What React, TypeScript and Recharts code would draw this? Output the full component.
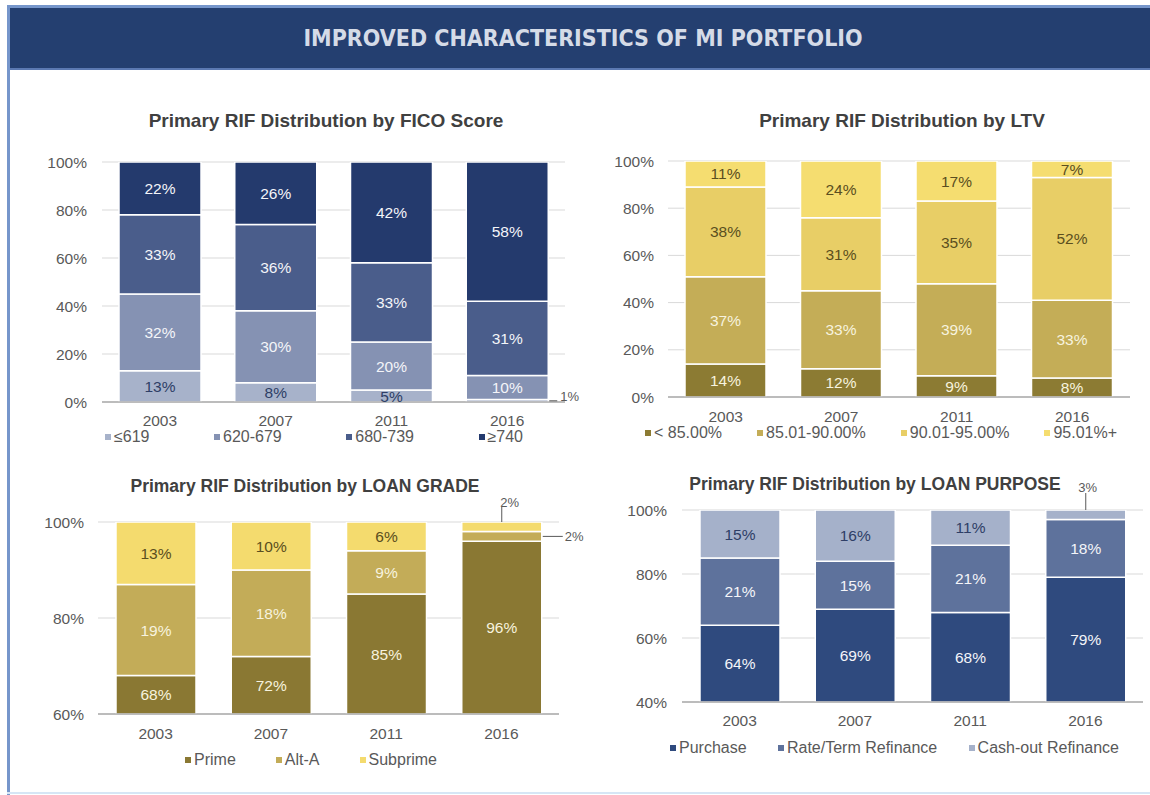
import React from 'react';
import { BarChart, Bar, XAxis, YAxis, CartesianGrid, LabelList, Legend } from 'recharts';

const FONT = "'Liberation Sans', Arial, sans-serif";
const TXT = '#595959';

const years = ['2003', '2007', '2011', '2016'];

// FICO score, bottom to top
const ficoNames = ['≤619', '620-679', '680-739', '≥740'];
const ficoLe619 = [13, 8, 5, 1];
const fico620 = [32, 30, 20, 10];
const fico680 = [33, 36, 33, 31];
const fico740 = [22, 26, 42, 58];

// LTV, bottom to top
const ltvNames = ['< 85.00%', '85.01-90.00%', '90.01-95.00%', '95.01%+'];
const ltvLt85 = [14, 12, 9, 8];
const ltv85 = [37, 33, 39, 33];
const ltv90 = [38, 31, 35, 52];
const ltv95 = [11, 24, 17, 7];

// Loan grade
const gradeNames = ['Prime', 'Alt-A', 'Subprime'];
const gradePrime = [68, 72, 85, 96];
const gradeAltA = [19, 18, 9, 2];
const gradeSubprime = [13, 10, 6, 2];

// Loan purpose
const purposeNames = ['Purchase', 'Rate/Term Refinance', 'Cash-out Refinance'];
const purposePurchase = [64, 69, 68, 79];
const purposeRateTerm = [21, 15, 21, 18];
const purposeCashOut = [15, 16, 11, 3];

const ticksFull = [0, 20, 40, 60, 80, 100];
const ticksGrade = [60, 80, 100];
const ticksPurpose = [40, 60, 80, 100];

type SmallLabel = { mode: 'above' | 'right'; len: number; dx: number; dy: number };
type SeriesDef = { name: string; values: number[]; color: string; labelColor: string; small?: SmallLabel };

function makeLabel(color: string, plotTop: number, plotBottom: number, small?: SmallLabel) {
  return function BarValueLabel(props: any) {
    const vb = props.viewBox && props.viewBox.width !== undefined ? props.viewBox : props;
    const x = Number(vb.x);
    const w = Number(vb.width);
    const y0 = Number(vb.y);
    const h = Number(vb.height);
    let top = Math.min(y0, y0 + h);
    let bottom = Math.max(y0, y0 + h);
    const value = Number(props.value);
    const text = `${value}%`;

    if (small && value <= 3) {
      if (small.mode === 'above') {
        const cx = x + w / 2;
        return (
          <g>
            <line x1={cx} x2={cx} y1={top} y2={top - small.len} stroke="#595959" strokeWidth={1} />
            <text x={cx + small.dx} y={top + small.dy} textAnchor="middle" dominantBaseline="central"
              fontSize={13} fill={TXT} fontFamily={FONT}>{text}</text>
          </g>
        );
      }
      const cy = (top + bottom) / 2;
      const x1 = x + w + 1;
      return (
        <g>
          <line x1={x1} x2={x1 + small.len} y1={cy} y2={cy} stroke="#595959" strokeWidth={1} />
          <text x={x1 + small.len + small.dx} y={cy + small.dy} textAnchor="start" dominantBaseline="central"
            fontSize={13} fill={TXT} fontFamily={FONT}>{text}</text>
        </g>
      );
    }

    // keep the label inside the visible part of the bar
    top = Math.max(top, plotTop);
    bottom = Math.min(bottom, plotBottom);
    if (bottom - top < 1) return null;
    return (
      <text x={x + w / 2} y={(top + bottom) / 2} textAnchor="middle" dominantBaseline="central"
        fontSize={15.5} fill={color} fontFamily={FONT}>{text}</text>
    );
  };
}

type PanelProps = {
  title: string;
  titleX: number;
  titleY: number;
  titleSize: number;
  left: number;
  top: number;
  width: number;
  marginTop: number;
  marginRight: number;
  yWidth: number;
  yTickMargin: number;
  xTickMargin: number;
  xHeight: number;
  plotH: number;
  domain: [number, number];
  ticks: number[];
  series: SeriesDef[];
  barSize: number;
  legendLeft: number;
  legendWidth: number;
};

function Panel(p: PanelProps) {
  const legendH = 18;
  const height = p.marginTop + p.plotH + p.xHeight + legendH;
  const plotTop = p.marginTop;
  const plotBottom = p.marginTop + p.plotH;
  const data = years.map((year, i) => {
    const row: any = { year };
    p.series.forEach((s, k) => {
      row[`s${k}`] = s.values[i];
    });
    return row;
  });

  return (
    <>
      <div style={{
        position: 'absolute', left: p.titleX - 250, top: p.titleY - 12, width: 500, height: 24,
        textAlign: 'center', lineHeight: '24px', fontSize: p.titleSize, fontWeight: 700, color: '#404040', fontFamily: FONT,
      }}>
        {p.title}
      </div>
      <div style={{ position: 'absolute', left: p.left, top: p.top, width: p.width, height }}>
        <BarChart width={p.width} height={height} data={data}
          margin={{ top: p.marginTop, right: p.marginRight, left: 0, bottom: 0 }}
          style={{ fontFamily: FONT }}>
          <CartesianGrid vertical={false} stroke="#D9D9D9" />
          <XAxis dataKey="year" tickLine={false} axisLine={{ stroke: '#8C8C8C' }} height={p.xHeight}
            tickMargin={p.xTickMargin} tick={{ fill: TXT, fontSize: 15.5 }} />
          <YAxis type="number" domain={p.domain} ticks={p.ticks} allowDataOverflow width={p.yWidth}
            axisLine={false} tickLine={false} tickMargin={p.yTickMargin}
            tick={{ fill: TXT, fontSize: 15.5 }} tickFormatter={(v: number) => `${v}%`} />
          <Legend verticalAlign="bottom" height={legendH}
            wrapperStyle={{ left: p.legendLeft, width: p.legendWidth }}
            content={() => (
              <div style={{
                display: 'flex', justifyContent: 'space-between', height: legendH, lineHeight: `${legendH}px`,
                fontSize: 16, color: TXT, fontFamily: FONT,
              }}>
                {p.series.map((s) => (
                  <span key={s.name} style={{ display: 'inline-flex', alignItems: 'center', whiteSpace: 'nowrap' }}>
                    <span style={{ display: 'inline-block', width: 6, height: 6, background: s.color, marginRight: 3 }} />
                    {s.name}
                  </span>
                ))}
              </div>
            )}
          />
          {p.series.map((s, k) => (
            <Bar key={s.name} dataKey={`s${k}`} name={s.name} stackId="a" fill={s.color} stroke="#FFFFFF"
              strokeWidth={1.5} barSize={p.barSize} isAnimationActive={false}>
              <LabelList dataKey={`s${k}`} content={makeLabel(s.labelColor, plotTop, plotBottom, s.small)} />
            </Bar>
          ))}
        </BarChart>
      </div>
    </>
  );
}

const ficoSeries: SeriesDef[] = [
  { name: ficoNames[0], values: ficoLe619, color: '#A7B2CA', labelColor: '#2E3E66', small: { mode: 'right', len: 8, dx: 3, dy: -4 } },
  { name: ficoNames[1], values: fico620, color: '#8592B3', labelColor: '#F4F5F9' },
  { name: ficoNames[2], values: fico680, color: '#4A5D8B', labelColor: '#F4F5F9' },
  { name: ficoNames[3], values: fico740, color: '#243A6D', labelColor: '#F4F5F9' },
];

const ltvSeries: SeriesDef[] = [
  { name: ltvNames[0], values: ltvLt85, color: '#8C7B33', labelColor: '#F7F3DF' },
  { name: ltvNames[1], values: ltv85, color: '#C4AD57', labelColor: '#F7F3DF' },
  { name: ltvNames[2], values: ltv90, color: '#E8CE66', labelColor: '#5A4E20' },
  { name: ltvNames[3], values: ltv95, color: '#F5DD70', labelColor: '#5A4E20' },
];

const gradeSeries: SeriesDef[] = [
  { name: gradeNames[0], values: gradePrime, color: '#8A7833', labelColor: '#F7F3DF' },
  { name: gradeNames[1], values: gradeAltA, color: '#C3AC58', labelColor: '#F7F3DF', small: { mode: 'right', len: 20, dx: 2, dy: 0 } },
  { name: gradeNames[2], values: gradeSubprime, color: '#F4DB6E', labelColor: '#5A4E20', small: { mode: 'above', len: 15, dx: 8, dy: -20 } },
];

const purposeSeries: SeriesDef[] = [
  { name: purposeNames[0], values: purposePurchase, color: '#2F4A7E', labelColor: '#F4F5F9' },
  { name: purposeNames[1], values: purposeRateTerm, color: '#5E729C', labelColor: '#F4F5F9' },
  { name: purposeNames[2], values: purposeCashOut, color: '#A5B1CA', labelColor: '#2E3E66', small: { mode: 'above', len: 17, dx: 2, dy: -23 } },
];

export default function App() {
  return (
    <div style={{ position: 'absolute', left: 0, top: 0, width: 1150, height: 795, background: '#FFFFFF', overflow: 'hidden', fontFamily: FONT }}>
      <div style={{ position: 'absolute', left: 7, top: 5, width: 3, height: 790, background: '#7696CB' }} />
      <div style={{ position: 'absolute', left: 7, top: 5, width: 1143, height: 3, background: '#7696CB' }} />
      <div style={{ position: 'absolute', left: 7, top: 792, width: 1143, height: 2, background: '#D6E6F5' }} />
      <div style={{
        position: 'absolute', left: 10, top: 8, width: 1140, height: 62, background: '#243F70',
        borderBottom: '2px solid #5B79B2', boxSizing: 'border-box',
      }}>
        <div style={{
          textAlign: 'center', lineHeight: '60px', color: '#D5DBE7', fontWeight: 700, fontSize: 23,
          fontFamily: "'Liberation Sans Narrow', 'DejaVu Sans Condensed', sans-serif", paddingLeft: 6,
        }}>
          IMPROVED CHARACTERISTICS OF MI PORTFOLIO
        </div>
      </div>

      <Panel title="Primary RIF Distribution by FICO Score" titleX={326} titleY={121} titleSize={19}
        left={30} top={140} width={555} marginTop={22} marginRight={20}
        yWidth={72} yTickMargin={9} xTickMargin={7} xHeight={26} plotH={240}
        domain={[0, 100]} ticks={ticksFull} series={ficoSeries} barSize={82}
        legendLeft={75} legendWidth={418} />

      <Panel title="Primary RIF Distribution by LTV" titleX={902} titleY={121} titleSize={19}
        left={590} top={140} width={555} marginTop={21} marginRight={15}
        yWidth={78} yTickMargin={8} xTickMargin={8} xHeight={27} plotH={236}
        domain={[0, 100]} ticks={ticksFull} series={ltvSeries} barSize={81}
        legendLeft={55} legendWidth={472} />

      <Panel title="Primary RIF Distribution by LOAN GRADE" titleX={305} titleY={486} titleSize={17.5}
        left={30} top={490} width={560} marginTop={32} marginRight={31}
        yWidth={68} yTickMargin={8} xTickMargin={8} xHeight={37} plotH={192}
        domain={[60, 100]} ticks={ticksGrade} series={gradeSeries} barSize={80}
        legendLeft={155} legendWidth={252} />

      <Panel title="Primary RIF Distribution by LOAN PURPOSE" titleX={875} titleY={484} titleSize={17.5}
        left={590} top={478} width={558} marginTop={32} marginRight={5}
        yWidth={92} yTickMargin={9} xTickMargin={7} xHeight={37} plotH={192}
        domain={[40, 100]} ticks={ticksPurpose} series={purposeSeries} barSize={80}
        legendLeft={80} legendWidth={449} />
    </div>
  );
}
